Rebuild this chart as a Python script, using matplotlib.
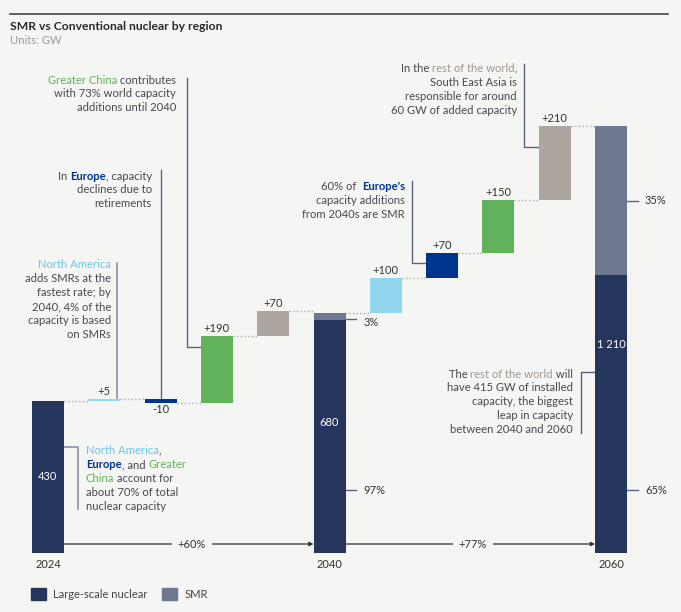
import matplotlib
matplotlib.use("Agg")
import matplotlib.pyplot as plt
from matplotlib.patches import Patch
from matplotlib.lines import Line2D

# ---- data (GW) ----
years = ["2024", "2040", "2060"]
totals = [430, 680, 1210]
smr_share = [0, 3, 35]          # % of total capacity that is SMR
regions = ["North America", "Europe", "Greater China", "Rest of world"]
add_to_2040 = [5, -10, 190, 70]
add_to_2060 = [100, 70, 150, 210]
growth = ["+60%", "+77%"]

BG = "#F5F5F3"
NAVY = "#26355C"
SMR_C = "#6E7891"
region_colors = ["#93D6F0", "#00358F", "#62B15B", "#ADA59F"]
TXT = "#4A4850"
LINE = "#5A6280"
DOT = "#A9A9A9"
FS = 8.1     # notes
NS = 8.0     # numbers

plt.rcParams["font.family"] = ["Lato", "DejaVu Sans"]

fig = plt.figure(figsize=(6.81, 6.12), dpi=100, facecolor=BG)
ax = fig.add_axes([0, 0, 1, 1])
ax.set_facecolor(BG)
ax.axis("off")

# mapping from reference pixels to data units (used for text placement)
def px2x(p):
    return (p - 48) / 56.3

def px2y(p):
    return (553 - p) / 0.353

ax.set_xlim(px2x(0), px2x(681))
ax.set_ylim(px2y(612), px2y(0))
W = 32 / 56.3
LH = 13.9


def rich_line(x, y, parts, ha="right", size=FS):
    parts = [(p, TXT, "normal") if isinstance(p, str) else p for p in parts]
    seq = parts if ha == "left" else parts[::-1]
    prev = None
    for text, color, weight in seq:
        kw = dict(color=color, fontweight=weight, fontsize=size, va="center", ha=ha)
        if prev is None:
            prev = ax.text(x, y, text, **kw)
        else:
            prev = ax.annotate(text, xy=(1 if ha == "left" else 0, 0.5),
                               xycoords=prev, **kw)


def note(xp, yp, lines, ha="right"):
    for i, ln in enumerate(lines):
        rich_line(px2x(xp), px2y(yp + i * LH), ln, ha=ha)


# ---- totals ----
for k, (yr, tot, s) in enumerate(zip(years, totals, smr_share)):
    x = 5 * k
    large = tot * (1 - s / 100)
    ax.bar(x, large, W, color=NAVY, zorder=3)
    if s:
        ax.bar(x, tot - large, W, bottom=large, color=SMR_C, zorder=3)
    ax.text(x, px2y(565), yr, ha="center", va="center", fontsize=NS, color="#333")

ax.text(0, px2y(476), f"{totals[0]}", ha="center", va="center", color="white", fontsize=NS)
ax.text(5, px2y(422), f"{totals[1]}", ha="center", va="center", color="white", fontsize=NS)
ax.text(10, px2y(345), f"{totals[2] // 1000} {totals[2] % 1000}", ha="center", va="center",
        color="white", fontsize=NS)

# ---- waterfall steps ----
for k, (start, adds) in enumerate([(totals[0], add_to_2040), (totals[1], add_to_2060)]):
    base = 5 * k
    level = start
    for i, d in enumerate(adds):
        x = base + 1 + i
        bottom = level if d > 0 else level + d
        ax.bar(x, abs(d), W, bottom=bottom, color=region_colors[i], zorder=3)
        ax.plot([x - 1 + W / 2, x - W / 2], [level, level], ls=":", color=DOT, lw=1, zorder=2)
        if d > 0:
            ax.annotate(f"+{d}", (x, level + d), xytext=(0, 1.5), textcoords="offset points",
                        ha="center", va="bottom", fontsize=NS, color="#333")
        else:
            ax.annotate(f"{d}", (x, level + d), xytext=(0, -1), textcoords="offset points",
                        ha="center", va="top", fontsize=NS, color="#333")
        level += d
    ax.plot([base + 4 + W / 2, base + 5 - W / 2], [level, level], ls=":", color=DOT, lw=1, zorder=2)

# ---- SMR share ticks ----
for k, (tot, s) in enumerate(zip(totals[1:], smr_share[1:]), start=1):
    x = 5 * k + W / 2
    large = tot * (1 - s / 100)
    ys = [px2y(490), (large + tot) / 2] if s > 10 else [px2y(490), px2y(319)]
    for j, (yv, lab) in enumerate(zip(ys, [f"{100 - s}%", f"{s}%"])):
        ax.plot([x, x + 11 / 56.3], [yv, yv], color=LINE, lw=1)
        ty = yv if (s > 10 or j == 0) else px2y(322)
        ax.text(x + 18 / 56.3, ty, lab, va="center", ha="left", fontsize=NS, color="#333")

# ---- growth arrows ----
label_x = [px2x(192), px2x(473)]
for k, lab in enumerate(growth):
    x0, x1 = 5 * k + W / 2, 5 * (k + 1) - W / 2
    yv = px2y(544)
    ax.annotate("", xy=(x1, yv), xytext=(x0, yv),
                arrowprops=dict(arrowstyle="-|>", color="#333", lw=0.9, mutation_scale=6,
                                shrinkA=0, shrinkB=0))
    ax.text(label_x[k], yv, lab, ha="center", va="center", fontsize=NS, color="#333",
            bbox=dict(boxstyle="square,pad=0.5", fc=BG, ec="none"))

# ---- annotations ----
GREEN, EUB, NAB, ROWC = region_colors[2], region_colors[1], "#6CC6EA", "#A09890"

note(176, 80, [[("Greater China", GREEN, "normal"), " contributes"],
               ["with 73% world capacity"], ["additions until 2040"]])
ax.plot([px2x(187), px2x(187), 3 - W / 2], [px2y(78), px2y(347), px2y(347)], color=LINE, lw=1)

note(152, 176, [["In ", ("Europe", EUB, "bold"), ", capacity"],
                ["declines due to"], ["retirements"]])
ax.plot([2, 2], [px2y(170), totals[0] + add_to_2040[0]], color=LINE, lw=1)

note(111, 265, [[("North America", NAB, "normal")], ["adds SMRs at the"], ["fastest rate; by"],
                ["2040, 4% of the"], ["capacity is based"], ["on SMRs"]])
ax.plot([px2x(117), px2x(117)], [px2y(263), totals[0] + add_to_2040[0]], color="#8A90A5", lw=1.2)

note(86, 451, [[("North America", NAB, "normal"), ","],
               [("Europe", EUB, "bold"), ", and ", ("Greater", GREEN, "normal")],
               [("China", GREEN, "normal"), " account for"],
               ["about 70% of total"], ["nuclear capacity"]], ha="left")
ax.plot([W / 2, px2x(78), px2x(78)], [px2y(447), px2y(447), px2y(509)], color="#8A90A5", lw=1.2)

note(405, 187, [["60% of  ", ("Europe's", EUB, "bold")],
                ["capacity additions"], ["from 2040s are SMR"]])
ax.plot([px2x(412), px2x(412), 7 - W / 2], [px2y(181), px2y(263), px2y(263)], color=LINE, lw=1)

note(517, 69, [["In the ", ("rest of the world", ROWC, "normal"), ","],
               ["South East Asia is"], ["responsible for around"], ["60 GW of added capacity"]])
ax.plot([px2x(524), px2x(524), 9 - W / 2], [px2y(64), px2y(147), px2y(147)], color=LINE, lw=1)

note(573, 374, [["The ", ("rest of the world", ROWC, "normal"), " will"],
                ["have 415 GW of installed"], ["capacity, the biggest"],
                ["leap in capacity"], ["between 2040 and 2060"]])
ax.plot([10 - W / 2, px2x(581), px2x(581)], [px2y(372), px2y(372), px2y(433)], color=LINE, lw=1)

# ---- title ----
fig.add_artist(Line2D([10 / 681, 668 / 681], [1 - 14 / 612, 1 - 14 / 612], color="#444", lw=1.2))
fig.text(10 / 681, 1 - 26 / 612, "SMR vs Conventional nuclear by region", fontsize=8.7,
         fontweight="bold", color="#2A2A2A", va="center")
fig.text(10 / 681, 1 - 40 / 612, "Units: GW", fontsize=FS, color="#9A9A9A", va="center")

# ---- legend ----
handles = [Patch(color=NAVY, label="Large-scale nuclear"), Patch(color=SMR_C, label="SMR")]
fig.legend(handles=handles, loc="center left", bbox_to_anchor=(31 / 681, 1 - 594 / 612),
           ncol=2, frameon=False, fontsize=NS, handlelength=1.35, handleheight=1.25,
           handletextpad=0.65, columnspacing=1.3, borderpad=0, borderaxespad=0,
           labelcolor="#444")

fig.savefig("out.png", dpi=100, facecolor=BG)
